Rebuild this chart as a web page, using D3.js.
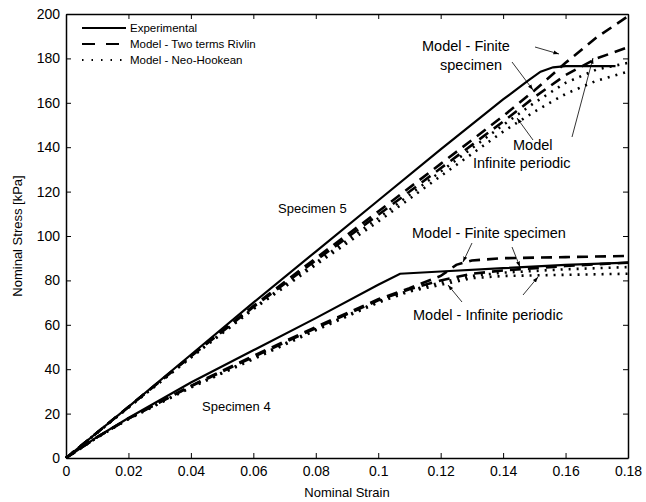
<!DOCTYPE html>
<html>
<head>
<meta charset="utf-8">
<script src="https://cdn.jsdelivr.net/npm/d3@7"></script>
<style>
  body { margin: 0; background: #fff; }
  text { font-family: "Liberation Sans", Arial, sans-serif; }
</style>
</head>
<body>
<div id="graph"></div>
<script>
// strain values and stress readings [kPa]
const xTicks = [0, 0.02, 0.04, 0.06, 0.08, 0.1, 0.12, 0.14, 0.16, 0.18];
const yTicks = [0, 20, 40, 60, 80, 100, 120, 140, 160, 180, 200];

// specimen 5
const exp5 = [[0,0],[0.02,23],[0.04,46.5],[0.06,70],[0.08,93],[0.10,116],[0.12,139],[0.14,161.5],[0.148,170],[0.152,174],[0.156,176],[0.16,176.5],[0.176,176.5]];
const rivFin5 = [[0,0],[0.02,23],[0.04,46],[0.06,68.5],[0.08,90],[0.10,111],[0.12,132.5],[0.14,154],[0.15,165.5],[0.16,178],[0.17,189.5],[0.18,199]];
const rivInf5 = [[0,0],[0.02,23],[0.04,45.8],[0.06,68],[0.08,89],[0.10,109.5],[0.12,130.5],[0.14,151.5],[0.15,162.5],[0.16,172.5],[0.17,180],[0.18,185]];
const neoFin5 = [[0,0],[0.02,22.8],[0.04,45.5],[0.06,67.5],[0.08,88],[0.10,108],[0.12,129],[0.14,150],[0.15,160],[0.16,169],[0.17,175],[0.18,178]];
const neoInf5 = [[0,0],[0.02,22.7],[0.04,45.2],[0.06,67],[0.08,87],[0.10,106.5],[0.12,127],[0.14,147],[0.15,156],[0.16,164],[0.17,170],[0.18,174]];

// specimen 4
const exp4 = [[0,0],[0.01,9.5],[0.02,18],[0.04,34],[0.06,48.5],[0.08,63],[0.10,78],[0.107,83],[0.12,84],[0.14,85.5],[0.16,87],[0.18,88]];
const rivFin4 = [[0,0],[0.01,9.4],[0.02,17.8],[0.04,32.5],[0.06,46],[0.08,59],[0.10,71.5],[0.11,76.5],[0.12,82],[0.125,87],[0.13,89],[0.14,90],[0.16,90.5],[0.18,91]];
const rivInf4 = [[0,0],[0.01,9.4],[0.02,17.7],[0.04,32.3],[0.06,45.5],[0.08,58.5],[0.10,71],[0.11,76],[0.12,80],[0.13,83],[0.14,84.5],[0.16,86.5],[0.18,88]];
const neoFin4 = [[0,0],[0.01,9.3],[0.02,17.6],[0.04,32],[0.06,45],[0.08,58],[0.10,70.5],[0.11,75.5],[0.12,79],[0.13,82],[0.14,83.5],[0.16,85],[0.18,86]];
const neoInf4 = [[0,0],[0.01,9.3],[0.02,17.5],[0.04,31.7],[0.06,44.5],[0.08,57.5],[0.10,70],[0.11,75],[0.12,78],[0.13,81],[0.14,82],[0.16,82.5],[0.18,83]];

const legendLabels = ["Experimental", "Model - Two terms Rivlin", "Model - Neo-Hookean"];

let margin = {top: 14, right: 18, bottom: 44, left: 66},
  width = 646 - margin.left - margin.right,
  height = 502 - margin.top - margin.bottom;

let svg = d3.select("#graph")
  .append("svg")
  .attr("width", 646)
  .attr("height", 502);

let g = svg.append("g")
  .attr("transform", `translate(${margin.left},${margin.top})`);

let x = d3.scaleLinear().domain([0, 0.18]).range([0, width]);
let y = d3.scaleLinear().domain([0, 200]).range([height, 0]);

// axes, ticks inward on all four sides
let fmt = d => d === 0 ? "0" : d3.format("")(+d.toFixed(2));
g.append("g")
  .attr("transform", `translate(0,${height})`)
  .call(d3.axisBottom(x).tickValues(xTicks).tickSizeInner(-5).tickSizeOuter(0).tickPadding(8).tickFormat(fmt))
  .call(a => a.selectAll("text").attr("font-size", 14));
g.append("g")
  .call(d3.axisTop(x).tickValues(xTicks).tickSizeInner(-5).tickSizeOuter(0).tickFormat(""));
g.append("g")
  .call(d3.axisLeft(y).tickValues(yTicks).tickSizeInner(-5).tickSizeOuter(0).tickPadding(6))
  .call(a => a.selectAll("text").attr("font-size", 14));
g.append("g")
  .attr("transform", `translate(${width},0)`)
  .call(d3.axisRight(y).tickValues(yTicks).tickSizeInner(-5).tickSizeOuter(0).tickFormat(""));
g.selectAll(".domain").attr("stroke", "#000").attr("stroke-width", 1.5);
g.selectAll(".tick line").attr("stroke", "#000").attr("stroke-width", 1);
g.selectAll(".tick text").attr("fill", "#000").attr("font-family", "Liberation Sans, Arial, sans-serif");

svg.append("text")
  .attr("x", margin.left + width / 2).attr("y", 497)
  .attr("text-anchor", "middle").attr("font-size", 13)
  .text("Nominal Strain");
svg.append("text")
  .attr("transform", `translate(22,${margin.top + height / 2}) rotate(-90)`)
  .attr("text-anchor", "middle").attr("font-size", 13)
  .text("Nominal Stress [kPa]");

let line = d3.line().x(d => x(d[0])).y(d => y(d[1]));

const styles = {
  solid: {w: 2.2, dash: null},
  dash: {w: 2.6, dash: "11,7"},
  dot: {w: 2.6, dash: "2,6"}
};
const curves = [
  [rivFin5, "dash"], [rivInf5, "dash"], [neoFin5, "dot"], [neoInf5, "dot"], [exp5, "solid"],
  [rivFin4, "dash"], [rivInf4, "dash"], [neoFin4, "dot"], [neoInf4, "dot"], [exp4, "solid"]
];

let plot = g.append("g");
curves.forEach(([data, s]) => {
  plot.append("path")
    .attr("d", line(data))
    .attr("fill", "none")
    .attr("stroke", "#000")
    .attr("stroke-width", styles[s].w)
    .attr("stroke-dasharray", styles[s].dash);
});

// legend
let leg = g.append("g").attr("transform", "translate(16,14)");
["solid", "dash", "dot"].forEach((s, i) => {
  leg.append("line")
    .attr("x1", 0).attr("x2", 44).attr("y1", i * 16).attr("y2", i * 16)
    .attr("stroke", "#000").attr("stroke-width", 2)
    .attr("stroke-dasharray", s === "dash" ? "13,11" : s === "dot" ? "1.5,8" : null);
  leg.append("text")
    .attr("x", 48).attr("y", i * 16 + 4)
    .attr("font-size", 11.5)
    .text(legendLabels[i]);
});

// annotations
const notes = [
  {t: "Model - Finite", x: 422, y: 51},
  {t: "specimen", x: 440, y: 70},
  {t: "Model", x: 513, y: 150},
  {t: "Infinite periodic", x: 473, y: 168},
  {t: "Model - Finite specimen", x: 412, y: 238},
  {t: "Model - Infinite periodic", x: 413, y: 320}
];
notes.forEach(n => {
  svg.append("text").attr("x", n.x).attr("y", n.y).attr("font-size", 14.5).text(n.t);
});
svg.append("text").attr("x", 278).attr("y", 213).attr("font-size", 13).text("Specimen 5");
svg.append("text").attr("x", 202).attr("y", 411).attr("font-size", 13).text("Specimen 4");

svg.append("defs").append("marker")
  .attr("id", "ah").attr("viewBox", "0 0 10 10")
  .attr("refX", 10).attr("refY", 5)
  .attr("markerWidth", 7).attr("markerHeight", 7)
  .attr("orient", "auto")
  .append("path").attr("d", "M0,1.5 L10,5 L0,8.5 Z").attr("fill", "#000");

const arrows = [
  [535, 47, 559, 54],
  [512, 62, 533, 90],
  [533, 140, 517, 118],
  [572, 137, 593, 58],
  [472, 243, 463, 262],
  [512, 247, 520, 267],
  [462, 302, 448, 285],
  [523, 295, 538, 277]
];
arrows.forEach(a => {
  svg.append("line")
    .attr("x1", a[0]).attr("y1", a[1]).attr("x2", a[2]).attr("y2", a[3])
    .attr("stroke", "#000").attr("stroke-width", 0.8)
    .attr("marker-end", "url(#ah)");
});
</script>
</body>
</html>
